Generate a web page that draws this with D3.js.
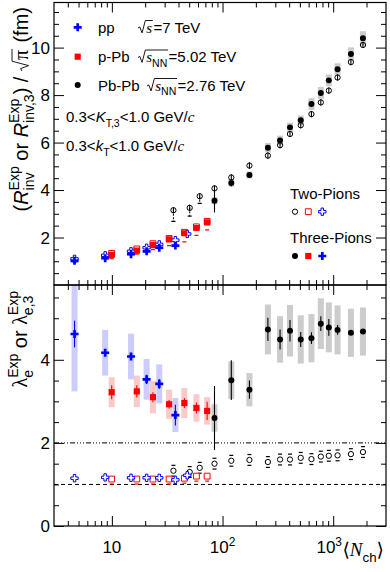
<!DOCTYPE html>
<html><head><meta charset="utf-8">
<script src="https://cdn.jsdelivr.net/npm/d3@7"></script>
<style>
body{margin:0;background:#fff;}
text{font-family:"Liberation Sans",Arial,Helvetica,sans-serif;fill:#000;white-space:pre;}
</style></head><body><svg id="c" width="390" height="572"></svg>
<script>
// ---------------- data ----------------
// pp sqrt(s)=7 TeV
const ppN2 = [4.6, 8.7, 14.9, 20.6, 26.8, 37.5, 48];
const ppR2 = [1.10, 1.25, 1.42, 1.57, 1.71, 1.89, 2.15];
const ppL2 = [1.15, 1.17, 1.16, 1.16, 1.16, 1.11, 1.22];
const ppN3 = [4.6, 8.7, 14.9, 20.6, 26.8, 37.5];
const ppR3 = [1.02, 1.13, 1.30, 1.42, 1.57, 1.66];
const ppR3sys = [0.10, 0.08, 0.08, 0.08, 0.08, 0.08];
const ppL3 = [4.62, 4.17, 4.08, 3.53, 3.42, 2.67];
const ppL3stat = [0.32, 0.08, 0.08, 0.11, 0.12, 0.25];
const ppL3sys = [1.38, 0.55, 0.55, 0.49, 0.47, 0.41];
// p-Pb sqrt(sNN)=5.02 TeV
const pPbN = [9.96, 16.8, 23.5, 32.9, 45.2, 58.1, 72.6];
const pPbR2 = [1.33, 1.52, 1.74, 1.96, 2.22, 2.45, 2.68];
const pPbR2sysLo = [0.22, 0.22, 0.25, 0.30, 0.40, 0.36, 0.36];
const pPbL2 = [1.13, 1.13, 1.13, 1.13, 1.15, 1.20, 1.20];
const pPbR3 = [1.27, 1.45, 1.68, 1.92, 2.18, 2.40, 2.64];
const pPbR3sys = [0.08, 0.08, 0.08, 0.08, 0.08, 0.08, 0.08];
const pPbL3 = [3.22, 3.24, 3.10, 2.93, 2.96, 2.84, 2.77];
const pPbL3stat = [0.17, 0.15, 0.12, 0.10, 0.12, 0.13, 0.22];
const pPbL3sys = [0.36, 0.38, 0.39, 0.35, 0.36, 0.33, 0.33];
// Pb-Pb sqrt(sNN)=2.76 TeV
const PbN2 = [36, 50.5, 62.2, 84.6, 120, 175, 257, 331, 407, 509, 636, 773, 913, 1095, 1446, 1857];
const PbR2 = [3.15, 3.25, 3.74, 4.07, 4.53, 5.03, 5.45, 5.89, 6.36, 6.73, 7.20, 7.69, 8.19, 8.74, 9.39, 10.11];
const PbR2sysLo = [0.47, 0.35, 0.30, 0, 0, 0, 0, 0, 0, 0, 0, 0, 0, 0, 0, 0];
const PbL2 = [1.33, 1.30, 1.40, 1.50, 1.57, 1.59, 1.54, 1.60, 1.60, 1.64, 1.61, 1.67, 1.69, 1.70, 1.73, 1.78];
const PbN3 = [84.6, 120, 175, 257, 331, 407, 509, 636, 773, 913, 1095, 1446, 1857];
const PbR3 = [3.55, 4.30, 4.63, 5.78, 6.09, 6.64, 6.94, 7.62, 8.09, 8.62, 9.09, 9.73, 10.39];
const PbR3stat = [0.50, 0.15, 0.05, 0.04, 0.04, 0.04, 0.04, 0.04, 0.04, 0.04, 0.04, 0.04, 0.04];
const PbR3sys = [0.15, 0.15, 0.15, 0.20, 0.20, 0.20, 0.20, 0.25, 0.25, 0.25, 0.25, 0.28, 0.30];
const PbL3 = [2.60, 3.51, 3.28, 4.73, 4.49, 4.70, 4.49, 4.52, 4.87, 4.78, 4.72, 4.65, 4.68];
const PbL3stat = [0.77, 0.48, 0.22, 0.28, 0.24, 0.26, 0.18, 0.14, 0.18, 0.20, 0.12, 0.05, 0.05];
const PbL3sys = [0.33, 0.45, 0.40, 0.60, 0.56, 0.62, 0.58, 0.58, 0.61, 0.60, 0.59, 0.58, 0.58];
// axes
const xMajor = [10, 100, 1000];
const xMinor = [4,5,6,7,8,9,20,30,40,50,60,70,80,90,200,300,400,500,600,700,800,900,2000];
const yTopMajor = [2, 4, 6, 8, 10];
const yBotMajor = [0, 2, 4];
const yTopMinor = [0.5,1,1.5,2.5,3,3.5,4.5,5,5.5,6.5,7,7.5,8.5,9,9.5,10.5,11,11.5];
const yBotMinor = [0.5,1,1.5,2.5,3,3.5,4.5,5,5.5];

// ---------------- setup ----------------
const svg = d3.select('#c');
const L = 54, R = 386, T = 2.5, M = 285, B = 526;
const x = d3.scaleLog().domain([3, 3000]).range([L, R]);
const yT = d3.scaleLinear().domain([0, 11.9]).range([M, T]);
const yB = d3.scaleLinear().domain([0, 5.8]).range([B, M]);
const BLUE = '#0000ff', RED = '#ff0000';
const SERIF = '"Liberation Serif","Times New Roman",serif';

const defs = svg.append('defs');
defs.append('clipPath').attr('id','clT').append('rect').attr('x',L).attr('y',T).attr('width',R-L).attr('height',M-T);
defs.append('clipPath').attr('id','clB').append('rect').attr('x',L).attr('y',M).attr('width',R-L).attr('height',B-M);

// rich text helper
function rich(parent, runs, size) {
  const g = parent.append('g');
  let cx = 0;
  for (const r of runs) {
    if (r.sqrt) {
      const s = size;
      const startX = cx, innerStart = cx + 0.55*s;
      const sub = g.append('g').attr('transform', `translate(${innerStart},0)`);
      const w = rich(sub, r.sqrt, size).w;
      const endX = innerStart + w + 0.05*s, topY = -0.8*s;
      g.append('path').attr('d', `M${startX},${-0.3*s} L${startX+0.12*s},${-0.37*s} L${startX+0.27*s},${0.03*s} L${innerStart-0.06*s},${topY} L${endX},${topY}`)
        .attr('fill','none').attr('stroke','#000').attr('stroke-width',0.9);
      cx = endX + 0.04*s;
    } else if (r.stack) {
      const fs = size*0.7;
      const a = g.append('text').attr('x',cx).attr('y',size*0.3).style('font-size',fs+'px').text(r.sub);
      const b = g.append('text').attr('x',cx).attr('y',-size*0.45).style('font-size',fs+'px').text(r.sup);
      cx += Math.max(a.node().getComputedTextLength(), b.node().getComputedTextLength());
    } else {
      const fs = (r.sub || r.sup) ? size*0.7 : size;
      const dy = r.sub ? size*0.3 : (r.sup ? -size*0.42 : 0);
      const t = g.append('text').attr('x',cx).attr('y',dy).style('font-size',fs+'px').text(r.t);
      if (r.it) t.style('font-style','italic');
      if (r.serif) t.style('font-family', SERIF);
      if (r.fam) t.style('font-family', r.fam);
      cx += t.node().getComputedTextLength();
    }
  }
  return {g, w: cx};
}

// ---------------- frames and ticks ----------------
function panel(y, yMaj, yMin, y0, y1) {
  const g = svg.append('g');
  const ax = (a, tr, vals, len) => g.append('g').attr('transform', tr)
      .call(a.tickValues(vals).tickSize(-len).tickFormat(''))
      .call(s => { s.select('.domain').remove(); s.selectAll('line').attr('stroke','#000').attr('stroke-width',1); });
  ax(d3.axisBottom(x), `translate(0,${y1})`, xMajor, 10);
  ax(d3.axisBottom(x), `translate(0,${y1})`, xMinor, 5);
  ax(d3.axisTop(x), `translate(0,${y0})`, xMajor, 10);
  ax(d3.axisTop(x), `translate(0,${y0})`, xMinor, 5);
  ax(d3.axisLeft(y), `translate(${L},0)`, yMaj, 10);
  ax(d3.axisLeft(y), `translate(${L},0)`, yMin, 5);
  ax(d3.axisRight(y), `translate(${R},0)`, yMaj, 10);
  ax(d3.axisRight(y), `translate(${R},0)`, yMin, 5);
  g.append('rect').attr('x',L).attr('y',y0).attr('width',R-L).attr('height',y1-y0)
    .attr('fill','none').attr('stroke','#000').attr('stroke-width',1.2);
  g.selectAll('text.yl').data(yMaj).join('text').attr('class','yl')
    .attr('x', L-4).attr('y', d => y(d) + 6).attr('text-anchor','end').style('font-size','17px').text(d => d);
}

// ---------------- marks ----------------
const gTop = svg.append('g').attr('clip-path','url(#clT)');
const gBot = svg.append('g').attr('clip-path','url(#clB)');

function boxes(g, xs, ys, es, y, fill) {
  g.append('g').selectAll('rect').data(xs).join('rect')
    .attr('x', d => x(d) - 3).attr('width', 6)
    .attr('y', (d,i) => y(ys[i] + es[i])).attr('height', (d,i) => y(ys[i] - es[i]) - y(ys[i] + es[i]))
    .attr('fill', fill);
}
function bars(g, xs, ys, es, y, col, dash) {
  g.append('g').selectAll('line').data(xs).join('line')
    .attr('x1', d => x(d)).attr('x2', d => x(d))
    .attr('y1', (d,i) => y(ys[i] + es[i])).attr('y2', (d,i) => y(ys[i] - es[i]))
    .attr('stroke', col).attr('stroke-width', 1.1).attr('stroke-dasharray', dash || null);
}
function caps(g, xs, ys, offs, y, col) {
  g.append('g').selectAll('line').data(xs).join('line')
    .attr('x1', d => x(d) - 2).attr('x2', d => x(d) + 2)
    .attr('y1', (d,i) => y(ys[i] + offs[i])).attr('y2', (d,i) => y(ys[i] + offs[i]))
    .attr('stroke', col).attr('stroke-width', 1.2);
}
function markers(g, xs, ys, y, type, size, fill, stroke) {
  g.append('g').selectAll('path').data(xs).join('path')
    .attr('transform', (d,i) => `translate(${x(d)},${y(ys[i])})`)
    .attr('d', d3.symbol().type(type).size(size))
    .attr('fill', fill).attr('stroke', stroke || 'none').attr('stroke-width', 1);
}

// ---- top panel (radii)
boxes(gTop, PbN3, PbR3, PbR3sys, yT, '#cccccc');
boxes(gTop, ppN3, ppR3, ppR3sys, yT, '#ccccff');
boxes(gTop, pPbN, pPbR3, pPbR3sys, yT, '#ffcccc');
{
  const idx = PbN2.map((d,i) => i).filter(i => PbR2sysLo[i] > 0);
  gTop.append('g').selectAll('line').data(idx).join('line')
    .attr('x1', i => x(PbN2[i])).attr('x2', i => x(PbN2[i]))
    .attr('y1', i => yT(PbR2[i])).attr('y2', i => yT(PbR2[i] - PbR2sysLo[i]))
    .attr('stroke', '#000').attr('stroke-width', 1).attr('stroke-dasharray', '2,1.5');
  caps(gTop, idx.map(i => PbN2[i]), idx.map(i => PbR2[i]), idx.map(i => -PbR2sysLo[i]), yT, '#000');
}
bars(gTop, PbN2, PbR2, PbN2.map(() => 0.13), yT, '#000');
caps(gTop, pPbN, pPbR2, pPbR2sysLo.map(d => -d), yT, RED);
bars(gTop, PbN3, PbR3, PbR3stat, yT, '#000');
markers(gTop, PbN2, PbR2, yT, d3.symbolCircle, 22, 'none', '#000');
markers(gTop, pPbN, pPbR2, yT, d3.symbolSquare, 34, '#fff', RED);
markers(gTop, ppN2, ppR2, yT, d3.symbolCross, 30, '#fff', BLUE);
markers(gTop, PbN3, PbR3, yT, d3.symbolCircle, 28, '#000');
markers(gTop, pPbN, pPbR3, yT, d3.symbolSquare, 38, RED);
markers(gTop, ppN3, ppR3, yT, d3.symbolCross, 36, BLUE);

// ---- bottom panel (lambda)
boxes(gBot, PbN3, PbL3, PbL3sys, yB, '#cccccc');
boxes(gBot, ppN3, ppL3, ppL3sys, yB, '#ccccff');
boxes(gBot, pPbN, pPbL3, pPbL3sys, yB, '#fcc8c8');
gBot.append('line').attr('x1',L).attr('x2',R).attr('y1',yB(2)).attr('y2',yB(2))
  .attr('stroke','#000').attr('stroke-width',1).attr('stroke-dasharray','5,2,1,2,1,2,1,2');
gBot.append('line').attr('x1',L).attr('x2',R).attr('y1',yB(1)).attr('y2',yB(1))
  .attr('stroke','#000').attr('stroke-width',1).attr('stroke-dasharray','4,3');
caps(gBot, PbN2, PbL2, PbN2.map(() => 0.13), yB, '#000');
caps(gBot, PbN2, PbL2, PbN2.map(() => -0.13), yB, '#000');
caps(gBot, pPbN, pPbL2, pPbN.map(() => -0.12), yB, RED);
bars(gBot, ppN3, ppL3, ppL3stat, yB, BLUE);
bars(gBot, pPbN, pPbL3, pPbL3stat, yB, RED);
bars(gBot, PbN3, PbL3, PbL3stat, yB, '#000');
markers(gBot, PbN2, PbL2, yB, d3.symbolCircle, 22, 'none', '#000');
markers(gBot, pPbN, pPbL2, yB, d3.symbolSquare, 34, '#fff', RED);
markers(gBot, ppN2, ppL2, yB, d3.symbolCross, 30, '#fff', BLUE);
markers(gBot, PbN3, PbL3, yB, d3.symbolCircle, 28, '#000');
markers(gBot, pPbN, pPbL3, yB, d3.symbolSquare, 38, RED);
markers(gBot, ppN3, ppL3, yB, d3.symbolCross, 36, BLUE);

// frames
panel(yT, yTopMajor, yTopMinor, T, M);
panel(yB, yBotMajor, yBotMinor, M, B);

// x tick labels
[[10, ''], [100, '2'], [1000, '3']].forEach(([v, e], k) => {
  const r = rich(svg, e ? [{t:'10'}, {t:e, sup:true}] : [{t:'10'}], 17);
  const shift = k === 2 ? -4 : 0;
  r.g.attr('transform', `translate(${x(v) - r.w/2 + shift},553)`);
});
// x title
{
  const r = rich(svg, [{t:'\u27E8', fam:'"DejaVu Sans"'}, {t:'N', it:true, serif:true}, {t:'ch', sub:true}, {t:'\u27E9', fam:'"DejaVu Sans"'}], 19);
  r.g.attr('transform', `translate(${384 - r.w},556)`);
}
// y titles
{
  const r = rich(svg, [{t:'('}, {t:'R', it:true}, {stack:true, sub:'inv', sup:'Exp'}, {t:' or '}, {t:'R', it:true},
    {stack:true, sub:'inv,3', sup:'Exp'}, {t:') / '}, {sqrt:[{t:'\u03C0', serif:true}]}, {t:' (fm)'}], 20);
  r.g.attr('transform', `translate(28,${7 + r.w}) rotate(-90)`);
  const r2 = rich(svg, [{t:'\u03BB', serif:true}, {stack:true, sub:'e', sup:'Exp'}, {t:' or '}, {t:'\u03BB', serif:true},
    {stack:true, sub:'e,3', sup:'Exp'}], 20);
  r2.g.attr('transform', `translate(27,${291 + r2.w}) rotate(-90)`);
}

// legend (systems)
const lg = svg.append('g');
lg.append('path').attr('transform','translate(77.7,27.3)').attr('d', d3.symbol().type(d3.symbolCross).size(36)).attr('fill', BLUE);
lg.append('path').attr('transform','translate(77.7,56.7)').attr('d', d3.symbol().type(d3.symbolSquare).size(38)).attr('fill', RED);
lg.append('path').attr('transform','translate(77.7,85)').attr('d', d3.symbol().type(d3.symbolCircle).size(28)).attr('fill', '#000');
rich(lg, [{t:'pp'}], 15).g.attr('transform','translate(98,32.5)');
rich(lg, [{sqrt:[{t:'s', it:true, serif:true}]}, {t:'=7 TeV'}], 15).g.attr('transform','translate(138,32.5)');
rich(lg, [{t:'p-Pb'}], 15).g.attr('transform','translate(98,62)');
rich(lg, [{sqrt:[{t:'s', it:true, serif:true}, {t:'NN', sub:true}]}, {t:'=5.02 TeV'}], 15).g.attr('transform','translate(138,62)');
rich(lg, [{t:'Pb-Pb'}], 15).g.attr('transform','translate(98,90.5)');
rich(lg, [{sqrt:[{t:'s', it:true, serif:true}, {t:'NN', sub:true}]}, {t:'=2.76 TeV'}], 15).g.attr('transform','translate(147,90.5)');
rich(lg, [{t:'0.3<'}, {t:'K', it:true}, {t:'T,3', sub:true}, {t:'<1.0 GeV/'}, {t:'c', it:true, serif:true}], 15).g.attr('transform','translate(66,122)');
rich(lg, [{t:'0.3<'}, {t:'k', it:true}, {t:'T', sub:true}, {t:'<1.0 GeV/'}, {t:'c', it:true, serif:true}], 15).g.attr('transform','translate(66,151)');

// legend (pions)
lg.append('text').attr('x',290).attr('y',198.5).style('font-size','15px').text('Two-Pions');
lg.append('text').attr('x',290).attr('y',242.5).style('font-size','15px').text('Three-Pions');
lg.append('path').attr('transform','translate(295,211.7)').attr('d', d3.symbol().type(d3.symbolCircle).size(22)).attr('fill','none').attr('stroke','#000');
lg.append('path').attr('transform','translate(308.3,211.7)').attr('d', d3.symbol().type(d3.symbolSquare).size(34)).attr('fill','#fff').attr('stroke',RED);
lg.append('path').attr('transform','translate(322.3,211.7)').attr('d', d3.symbol().type(d3.symbolCross).size(30)).attr('fill','#fff').attr('stroke',BLUE);
lg.append('path').attr('transform','translate(295,256)').attr('d', d3.symbol().type(d3.symbolCircle).size(28)).attr('fill','#000');
lg.append('path').attr('transform','translate(308.3,256)').attr('d', d3.symbol().type(d3.symbolSquare).size(38)).attr('fill',RED);
lg.append('path').attr('transform','translate(322.3,256)').attr('d', d3.symbol().type(d3.symbolCross).size(36)).attr('fill',BLUE);
</script></body></html>
